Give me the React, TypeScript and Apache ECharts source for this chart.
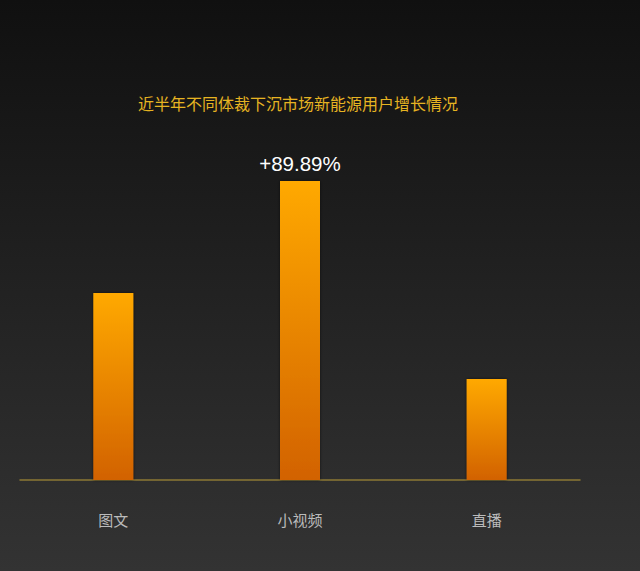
import { useEffect, useRef } from 'react';
import * as echarts from 'echarts';

const categories = ['图文', '小视频', '直播'];
const growth = [56.2, 89.89, 30.4];
const labelShown = [false, true, false];

export default function App() {
  const chartRef = useRef<HTMLDivElement>(null);

  useEffect(() => {
    if (!chartRef.current) return;
    document.body.style.margin = '0';
    const chart = echarts.init(chartRef.current, null, { renderer: 'svg' });

    chart.setOption({
      animation: false,
      backgroundColor: new echarts.graphic.LinearGradient(0, 0, 0, 1, [
        { offset: 0, color: '#101010' },
        { offset: 1, color: '#333333' },
      ]),
      title: {
        text: '近半年不同体裁下沉市场新能源用户增长情况',
        left: 133,
        top: 90,
        textStyle: {
          color: '#e6b422',
          fontSize: 16,
          fontWeight: 'normal',
          fontFamily: 'Noto Sans CJK SC',
        },
      },
      grid: {
        left: 20,
        right: 60,
        top: 147.4,
        bottom: 91,
        containLabel: false,
      },
      xAxis: {
        type: 'category',
        data: categories,
        axisLine: { lineStyle: { color: '#8c7834', width: 1.5 } },
        axisTick: { show: false },
        axisLabel: {
          color: '#bbbbbb',
          fontSize: 15,
          margin: 32,
          fontFamily: 'Noto Sans CJK SC',
        },
      },
      yAxis: {
        type: 'value',
        min: 0,
        max: 100,
        show: false,
        splitLine: { show: false },
      },
      series: [
        {
          type: 'bar',
          barWidth: 40,
          data: growth.map((v, i) => ({
            value: v,
            label: {
              show: labelShown[i],
              position: 'top',
              distance: 7,
              formatter: '+' + v.toFixed(2) + '%',
              color: '#ffffff',
              fontSize: 20.5,
              fontFamily: 'Liberation Sans',
            },
          })),
          itemStyle: {
            color: new echarts.graphic.LinearGradient(0, 0, 0, 1, [
              { offset: 0, color: '#ffa900' },
              { offset: 1, color: '#d26200' },
            ]),
            shadowColor: 'rgba(0,0,0,0.6)',
            shadowBlur: 3,
          },
        },
      ],
    });

    return () => {
      chart.dispose();
    };
  }, []);

  return (
    <div
      ref={chartRef}
      style={{ position: 'absolute', left: 0, top: 0, width: '640px', height: '571px' }}
    />
  );
}
